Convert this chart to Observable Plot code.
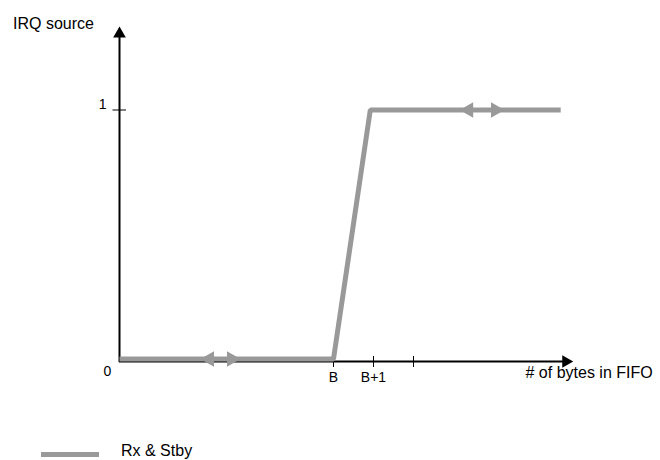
<!DOCTYPE html>
<html>
<head>
<meta charset="utf-8">
<script src="https://cdn.jsdelivr.net/npm/d3@7"></script>
<script src="https://cdn.jsdelivr.net/npm/@observablehq/plot@0.6"></script>
<style>
  body { margin: 0; background: #fff; font-family: Arial, "Liberation Sans", sans-serif; }
  #wrap { position: relative; width: 660px; height: 460px; }
  #legend-swatch { position: absolute; left: 41px; top: 452px; width: 58px; height: 5px; background: #999999; }
  #legend-text { position: absolute; left: 121px; top: 442px; font-size: 16px; line-height: 18px; color: #000; white-space: nowrap; }
</style>
</head>
<body>
<div id="wrap"></div>
<script>
// ---- data ----
const xLabel = "# of bytes in FIFO";
const yLabel = "IRQ source";
const seriesName = "Rx & Stby";

// IRQ level vs. bytes in FIFO (x in byte units, B = 5.35)
const fifoBytes = [0, 5.35, 6.27, 11.03];
const irqLevel = [0, 0, 1, 1];

// x ticks
const xTicks = [5.35, 6.35, 7.35];
const xTickLabels = ["B", "B+1", ""];
// y ticks
const yTicks = [1];
const yTickLabels = ["1"];
const originLabel = ["0"];

// double-headed hysteresis arrows on the line
const hystX = [2.25, 2.80, 8.73, 9.40];
const hystY = [0, 0, 1, 1];
const hystDir = [-90, 90, -90, 90];

// axis extents (where the arrowheads sit)
const xAxisEnd = 11.16;
const yAxisEnd = 1.306;
const xDomainMax = 11.325;

// ---- build ----
const series = fifoBytes.map((x, i) => ({x, y: irqLevel[i]}));
const arrows = hystX.map((x, i) => ({x, y: hystY[i], r: hystDir[i]}));
const gray = "#999999";
const font = "Arial, 'Liberation Sans', sans-serif";

const chart = Plot.plot({
  width: 660,
  height: 460,
  marginLeft: 119,
  marginRight: 88,
  marginTop: 0,
  marginBottom: 99,
  x: {domain: [0, xDomainMax], axis: null},
  y: {domain: [0, 1], range: [358.5, 109.5], axis: null},
  style: {fontFamily: font, fontSize: "14px", background: "white", color: "black"},
  marks: [
    // axis lines
    Plot.ruleY([0], {x1: 0, x2: xAxisEnd, dy: 2.5, stroke: "black", strokeWidth: 2}),
    Plot.ruleX([0], {x: 0, y1: yAxisEnd, y2: 0, insetBottom: -3.5, stroke: "black", strokeWidth: 2}),
    // axis arrowheads
    Plot.dot([0], {x: 0, y: yAxisEnd, symbol: "triangle", r: 4.72, fill: "black", stroke: null}),
    Plot.dot([0], {x: xAxisEnd, y: 0, dy: 2.5, rotate: 90, symbol: "triangle", r: 4.72, fill: "black", stroke: null}),
    // x ticks (downward part for all, upward part for crossing ticks)
    Plot.ruleX(xTicks, {x: d => d, y1: 0, y2: 0, dy: 2.5, insetBottom: -6, stroke: "black", strokeWidth: 1}),
    Plot.ruleX(xTicks.slice(1), {x: d => d, y1: 0, y2: 0, dy: 2.5, insetTop: -5, stroke: "black", strokeWidth: 1}),
    // y tick
    Plot.ruleY(yTicks, {y: d => d, x1: 0, x2: 0, insetLeft: -6.5, insetRight: -7, stroke: "black", strokeWidth: 1}),
    // series line
    Plot.line(series, {x: "x", y: "y", stroke: gray, strokeWidth: 5, strokeLinejoin: "miter", strokeLinecap: "butt"}),
    // hysteresis arrowheads
    Plot.dot(arrows, {x: "x", y: "y", rotate: "r", symbol: "triangle", r: 5.8, fill: gray, stroke: null}),
    // tick labels
    Plot.text(xTicks, {x: d => d, y: 0, text: (d, i) => xTickLabels[i], dy: 18.2, fontSize: 14, fill: "black"}),
    Plot.text(yTicks, {x: 0, y: d => d, text: (d, i) => yTickLabels[i], textAnchor: "end", dx: -13, dy: -5.5, fontSize: 14, fill: "black"}),
    Plot.text(originLabel, {x: 0, y: 0, text: d => d, dx: -12, dy: 12.8, fontSize: 14, fill: "black"}),
    // axis titles
    Plot.text([yLabel], {frameAnchor: "top-left", text: d => d, textAnchor: "start", dx: -106.5, dy: 17.5, fontSize: 16, fill: "black"}),
    Plot.text([xLabel], {frameAnchor: "bottom-right", text: d => d, textAnchor: "start", dx: -47, dy: 16, fontSize: 16, fill: "black"})
  ]
});

const wrap = document.getElementById("wrap");
wrap.appendChild(chart);
const sw = document.createElement("div");
sw.id = "legend-swatch";
wrap.appendChild(sw);
const lt = document.createElement("div");
lt.id = "legend-text";
lt.textContent = seriesName;
wrap.appendChild(lt);
</script>
</body>
</html>
